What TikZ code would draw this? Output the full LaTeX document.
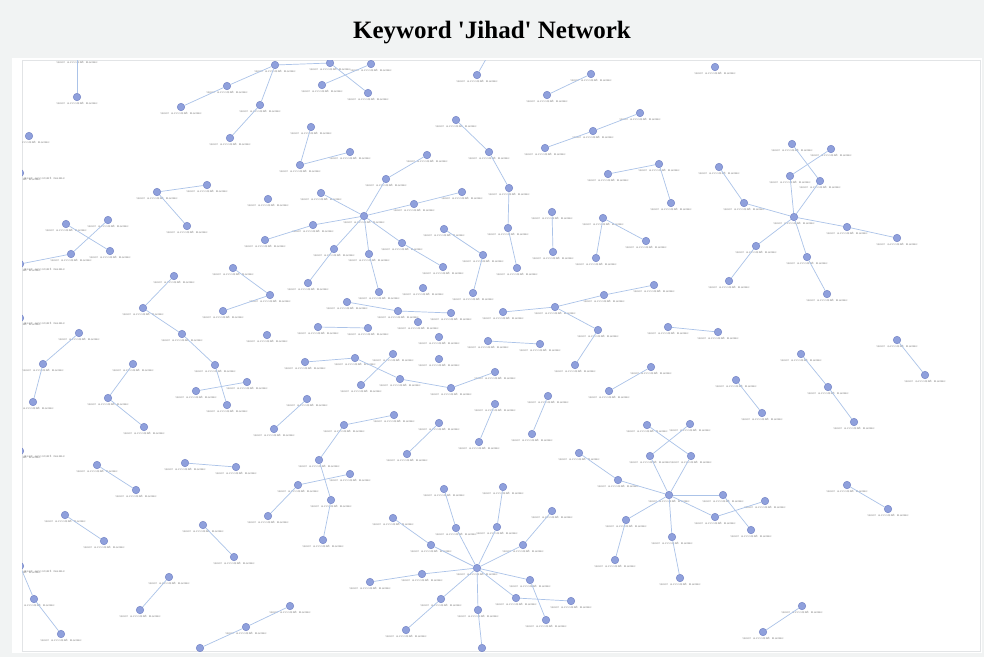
\documentclass[tikz,border=0pt]{standalone}
\usepackage{fontspec}
\usepackage{tikz}
\newfontfamily\titlefont{Liberation Serif}
\definecolor{pagegray}{HTML}{F1F3F3}
\definecolor{framegray}{HTML}{E2E4E6}
\definecolor{acctfill}{HTML}{8FA0DC}
\definecolor{acctedge}{HTML}{7584C6}
\definecolor{linkblue}{HTML}{ABC3E8}
\definecolor{lblgray}{HTML}{7A7A7A}
\tikzset{
  acctlbl/.style={font=\fontsize{3.7}{3.7}\selectfont, text=lblgray, inner sep=0pt},
  acct/.style={circle, draw=acctedge, fill=acctfill, line width=0.5pt, inner sep=0pt,
    minimum size=7.5pt, label={[acctlbl, label distance=1.5pt]below:user account name}},
  edgeacct/.style={acct, label={[acctlbl, label distance=1pt]below right:user account name}},
  link/.style={draw=linkblue, line width=0.7pt}
}

\begin{document}
\begin{tikzpicture}[x=1pt, y=-1pt]
		\useasboundingbox (0,0) rectangle (984,657);
		% PAGE AND PANEL
		\fill [pagegray] (0,0) rectangle (984,657);
		\fill [white] (12,58) rectangle (982,653);
		\draw [framegray, line width=0.6pt] (22,60) rectangle (980,651);
		\node (title) at (492,33) {\titlefont\bfseries\fontsize{25}{25}\selectfont Keyword \textquotesingle Jihad\textquotesingle{} Network};
		\begin{scope}
		\clip (22,60) rectangle (980,651);
		% ACCOUNTS ON THE PANEL EDGE
		\node [acct] (u77-55) at (77,55.5) {};
		\coordinate (u490-52) at (490,52);
		\node [edgeacct] (u14-172) at (20,173) {};
		\node [edgeacct] (u14-268) at (20,264) {};
		\node [edgeacct] (u14-318) at (20,318) {};
		\node [edgeacct] (u14-452) at (20,451) {};
		\node [edgeacct] (u12-560) at (20,566) {};
		% ACCOUNTS
		\foreach \x/\y in {77/97,29/136,227/86,181/107,230/138,275/65,260/105,330/63,
			371/64,322/85,368/93,477/75,311/127,300/165,350/152,456/120,489/152,
			427/155,386/179,364/216,321/193,268/199,313/225,265/240,334/249,308/283,369/254,
			379/292,402/243,443/267,423/288,414/204,462/192,509/188,508/228,517/268,444/229,
			483/255,473/293,157/192,207/185,187/226,66/224,108/220,71/254,110/251,
			174/276,143/308,182/334,233/268,270/295,223/311,79/333,347/302,398/311,
			451/313,418/322,318/327,368/328,267/335,439/337,488/341,393/354,355/358,439/359,
			305/362,400/379,361/385,451/388,495/372,247/382,215/365,196/391,227/405,43/364,
			33/402,133/364,108/398,144/427,97/465,136/490,185/463,236/467,65/515,
			104/541,203/525,234/557,34/599,61/634,169/577,140/610,200/648,246/627,
			290/606,307/399,274/429,394/415,344/425,319/460,350/474,298/485,331/500,268/516,
			323/540,439/423,407/454,479/442,495/404,444/489,456/528,497/527,503/487,393/518,
			431/545,422/574,370/582,477/568,523/545,552/511,530/580,516/598,571/601,546/620,
			441/599,406/630,478/610,482/648,591/74,547/95,715/67,640/113,593/131,545/148,
			608/174,659/164,671/203,719/167,552/212,553/252,603/218,596/258,646/241,729/281,
			654/285,604/295,555/307,503/312,598/330,668/327,718/332,540/344,575/365,651/367,
			609/391,548/396,532/434,647/425,690/424,650/456,691/456,669/495,579/453,618/480,
			723/495,715/517,765/501,751/530,626/520,615/560,672/537,680/578,792/144,831/149,
			790/176,820/181,744/203,794/217,847/227,897/238,756/246,807/257,827/294,897/340,
			925/375,801/354,828/387,854/422,736/380,762/413,847/485,888/509,802/606,763/632}
			\node [acct] (u\x-\y) at (\x,\y) {};
		% MENTIONS
		\foreach \a/\b in {77-97/77-55,181-107/227-86,227-86/275-65,275-65/260-105,260-105/230-138,
			275-65/330-63,330-63/368-93,322-85/371-64,477-75/490-52,311-127/300-165,300-165/350-152,
			456-120/489-152,489-152/509-188,509-188/508-228,508-228/517-268,427-155/386-179,
			386-179/364-216,321-193/364-216,313-225/364-216,265-240/313-225,334-249/364-216,
			308-283/334-249,369-254/364-216,369-254/379-292,402-243/364-216,402-243/443-267,
			414-204/364-216,414-204/462-192,444-229/483-255,483-255/473-293,157-192/207-185,
			157-192/187-226,108-220/71-254,66-224/110-251,71-254/14-268,174-276/143-308,
			143-308/182-334,182-334/215-365,233-268/270-295,223-311/270-295,79-333/43-364,
			43-364/33-402,133-364/108-398,108-398/144-427,215-365/227-405,196-391/247-382,
			97-465/136-490,185-463/236-467,65-515/104-541,203-525/234-557,169-577/140-610,
			12-560/34-599,34-599/61-634,200-648/246-627,246-627/290-606,305-362/355-358,
			355-358/400-379,393-354/361-385,400-379/451-388,451-388/495-372,307-399/274-429,
			394-415/344-425,344-425/319-460,319-460/331-500,331-500/323-540,298-485/350-474,
			298-485/268-516,439-423/407-454,495-404/479-442,444-489/456-528,456-528/477-568,
			497-527/477-568,503-487/497-527,393-518/431-545,431-545/477-568,422-574/477-568,
			370-582/422-574,523-545/477-568,552-511/523-545,530-580/477-568,530-580/546-620,
			516-598/477-568,516-598/571-601,441-599/477-568,441-599/406-630,478-610/477-568,
			478-610/482-648,591-74/547-95,640-113/593-131,593-131/545-148,608-174/659-164,
			659-164/671-203,719-167/744-203,552-212/553-252,603-218/596-258,603-218/646-241,
			654-285/604-295,604-295/555-307,555-307/503-312,555-307/598-330,598-330/575-365,
			668-327/718-332,488-341/540-344,651-367/609-391,548-396/532-434,647-425/691-456,
			690-424/650-456,650-456/669-495,691-456/669-495,579-453/618-480,618-480/669-495,
			669-495/723-495,669-495/715-517,723-495/751-530,715-517/765-501,669-495/626-520,
			626-520/615-560,669-495/672-537,672-537/680-578,792-144/820-181,831-149/790-176,
			790-176/794-217,820-181/794-217,744-203/794-217,794-217/847-227,847-227/897-238,
			794-217/756-246,756-246/729-281,794-217/807-257,807-257/827-294,897-340/925-375,
			801-354/828-387,828-387/854-422,736-380/762-413,847-485/888-509,802-606/763-632,
			347-302/398-311,398-311/451-313,318-327/368-328}
			\draw [link] (u\a) -- (u\b);
		\end{scope}
\end{tikzpicture}
\end{document}
